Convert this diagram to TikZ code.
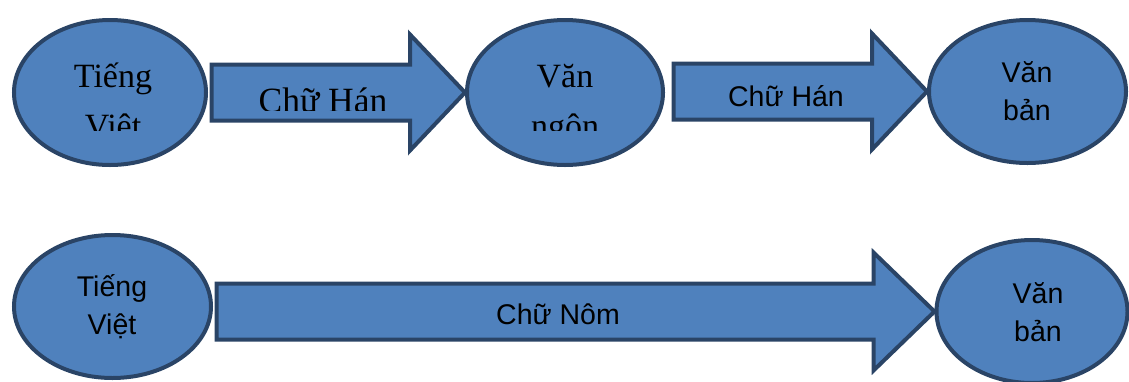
\documentclass[tikz,border=0pt]{standalone}
\usepackage{fontspec}
\setmainfont{Liberation Serif}
\setsansfont{Liberation Sans}
\usetikzlibrary{shapes.geometric,calc}
\definecolor{blkfill}{HTML}{4F81BD}
\definecolor{blkedge}{HTML}{2A4466}
% two centred lines whose box baseline is the first line's baseline
\newcommand{\twolines}[2]{\begin{tabular}[t]{@{}c@{}}#1\\#2\end{tabular}}
\begin{document}
\begin{tikzpicture}[x=1pt,y=-1pt,
  oval/.style={ellipse, fill=blkfill, draw=blkedge, line width=4pt, inner sep=0pt},
  barrow/.style={fill=blkfill, draw=blkedge, line width=4pt, line join=miter},
  seriflbl/.style={font=\fontsize{34}{50}\selectfont, anchor=base, inner sep=0pt},
  sanslbl/.style={font=\sffamily\fontsize{28.5}{38.5}\selectfont, anchor=base, inner sep=0pt},
]
\useasboundingbox (0,0) rectangle (1129,381);

% ---- top row: ellipses
\node[oval, minimum width=192pt, minimum height=145pt] (e1) at (110,92.5) {};
\node[oval, minimum width=196pt, minimum height=145pt] (e2) at (565,92.5) {};
\node[oval, minimum width=197pt, minimum height=143pt] (e3) at (1027.5,91.5) {};

% ---- bottom row: ellipses
\node[oval, minimum width=197pt, minimum height=143pt] (e4) at (112.5,306.5) {};
\node[oval, minimum width=191pt, minimum height=143pt] (e5) at (1032,311.5) {};

% ---- block arrows from ellipse to ellipse
\draw[barrow] let \p1=(e1.east), \p2=(e2.west) in
  (\x1+3.5pt,\y2+28pt) -- (\x2-55pt,\y2+28pt) -- (\x2-55pt,\y2+58pt) -- (\p2)
  -- (\x2-55pt,\y2-58pt) -- (\x2-55pt,\y2-28pt) -- (\x1+3.5pt,\y2-28pt) -- cycle;
\draw[barrow] let \p1=(e2.east), \p2=(e3.west) in
  (\x1+8.5pt,\y2+28pt) -- (\x2-55pt,\y2+28pt) -- (\x2-55pt,\y2+58pt) -- (\p2)
  -- (\x2-55pt,\y2-58pt) -- (\x2-55pt,\y2-28pt) -- (\x1+8.5pt,\y2-28pt) -- cycle;
\draw[barrow] let \p1=(e4.east), \p2=(e5.west) in
  (\x1+3.5pt,\y2+28pt) -- (\x2-61pt,\y2+28pt) -- (\x2-61pt,\y2+59pt) -- (\p2)
  -- (\x2-61pt,\y2-59pt) -- (\x2-61pt,\y2-28pt) -- (\x1+3.5pt,\y2-28pt) -- cycle;

% ---- serif labels of the top row, cut off by their text boxes
\begin{scope}
  \clip (0,0) rectangle (700,130);
  \node[seriflbl] (l1) at (113,87) {\twolines{Tiếng}{Việt}};
  \node[seriflbl] (l2) at (565,87) {\twolines{Văn}{ngôn}};
\end{scope}
\begin{scope}
  \clip (200,0) rectangle (460,110.7);
  \node[seriflbl, font=\fontsize{35.5}{50}\selectfont] (la1) at (323,112) {Chữ Hán};
\end{scope}

% ---- sans labels
\node[sanslbl] (la2) at (786,106) {Chữ Hán};
\node[sanslbl] (l3) at (1027,82) {\twolines{Văn}{bản}};
\node[sanslbl] (l4) at (112,296) {\twolines{Tiếng}{Việt}};
\node[sanslbl] (la3) at (558,324.5) {Chữ Nôm};
\node[sanslbl] (l5) at (1038,303) {\twolines{Văn}{bản}};
\end{tikzpicture}
\end{document}
